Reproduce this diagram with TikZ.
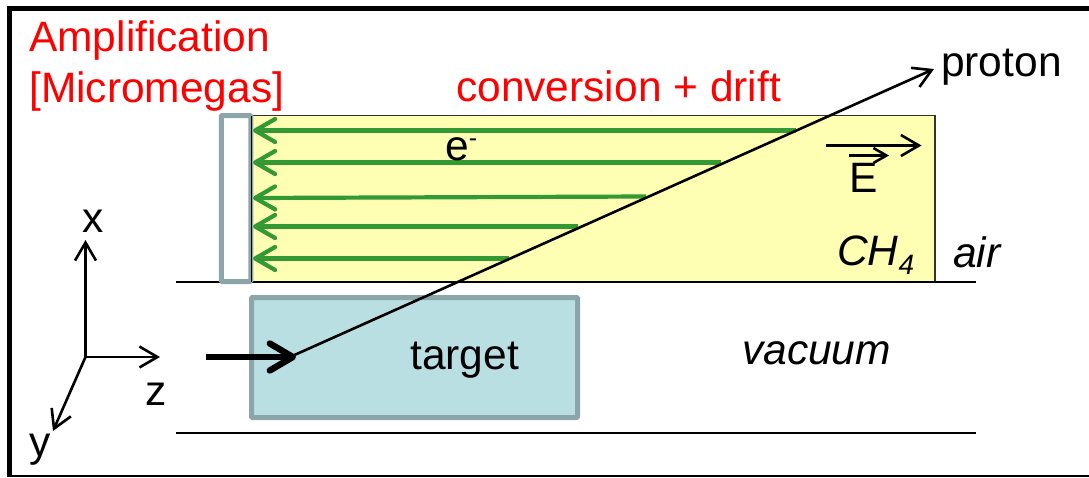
\documentclass[tikz,border=0pt]{standalone}
\usepackage{fontspec}
\setmainfont{Liberation Sans}
\usetikzlibrary{arrows.meta}
\definecolor{gasfill}{HTML}{FFFFB3}
\definecolor{tgtfill}{HTML}{B9DFE3}
\definecolor{framegrey}{HTML}{8CA5A9}
\definecolor{driftgreen}{HTML}{339933}
\definecolor{labelred}{HTML}{FF0000}
\tikzset{
  x=1pt,y=-1pt,
  thinline/.style={draw=black,line width=2.6pt},
  barb/.style={thinline,-{Straight Barb[length=18pt,width=21pt,line width=2.6pt]}},
  drift/.style={draw=driftgreen,line width=4.2pt,-{Straight Barb[length=20pt,width=23pt,line width=4.2pt,round]}},
  lbl/.style={inner sep=0pt,font=\fontsize{42.5}{46}\selectfont},
  redlbl/.style={lbl,text=labelred},
  itlbl/.style={lbl,font=\fontsize{42.5}{46}\selectfont\itshape},
  boxshape/.style={line width=5pt,rounded corners=1pt,inner sep=0pt,outer sep=0pt,anchor=center},
}
\begin{document}
\begin{tikzpicture}
\useasboundingbox (0,0) rectangle (1089,477);
% outer frame
\coordinate (fa) at (9.5,477);
\coordinate (fb) at (9.5,8);
\coordinate (fc) at (1089,8);
\coordinate (fd) at (10,475.5);
\coordinate (fe) at (1089,475.5);
\draw[line width=5pt] (fa) -- (fb) -- (fc);
\draw[line width=2pt] (fd) -- (fe);
% gas volume
\node[draw=black!80,line width=1.2pt,fill=gasfill,minimum width=684pt,minimum height=166.5pt,inner sep=0pt,outer sep=0pt,anchor=center] (gas) at (593,198.75) {};
% horizontal lines
\coordinate (la) at (176,282);
\coordinate (lb) at (976,282);
\coordinate (lc) at (176,433);
\coordinate (ld) at (976,433);
\draw[thinline] (la) -- (lb);
\draw[thinline] (lc) -- (ld);
% micromegas
\node[boxshape,draw=framegrey,fill=white,minimum width=29.5pt,minimum height=166pt] (mm) at (236,198.5) {};
\coordinate (ma) at (251,116);
\coordinate (mb) at (251,282);
\draw[line width=1pt] (ma) -- (mb);
% target
\node[boxshape,draw=framegrey,fill=tgtfill,minimum width=326pt,minimum height=120pt] (tgt) at (414.5,357.5) {};
% drift arrows
\foreach \n/\xa/\ya/\yb in {1/796/130.5/130.5,2/721/162.5/162.5,3/646/196.5/198,4/578/226.5/226.5,5/509/258.5/258.5}{
  \coordinate (ds\n) at (\xa,\ya);
  \coordinate (de\n) at (253,\yb);
  \draw[drift] (ds\n) -- (de\n);
}
% beam
\coordinate (bs) at (206,357);
\coordinate (be) at (296,357);
\coordinate (pe) at (934,69);
\coordinate (ps) at (290,357);
\draw[barb] (ps) -- (pe);
\draw[draw=black,line width=6.4pt,-{Straight Barb[length=23pt,width=27pt,line width=6.4pt,round]}] (bs) -- (be);
% E field
\coordinate (ea) at (826,145.5);
\coordinate (eb) at (921.5,145.5);
\coordinate (ec) at (849,155.5);
\coordinate (ed) at (889,155.5);
\draw[barb] (ea) -- (eb);
\draw[thinline,-{Straight Barb[length=13pt,width=15pt,line width=2.6pt]}] (ec) -- (ed);
% axes
\coordinate (o) at (85.5,357);
\coordinate (xe) at (85.5,240);
\coordinate (ze) at (160,357);
\coordinate (ye) at (53,431);
\draw[barb] (o) -- (xe);
\draw[barb] (o) -- (ze);
\draw[barb] (o) -- (ye);
% labels
\node[redlbl,anchor=base west] (amp) at (29,51) {Amplification};
\node[redlbl,anchor=base west] (mic) at (29,102) {[Micromegas]};
\node[redlbl,anchor=base west] (conv) at (456,101) {conversion + drift};
\node[lbl,anchor=base west] (prot) at (941,76) {proton};
\node[lbl,anchor=base west] (elec) at (445,160) {e\raisebox{14pt}{\fontsize{25}{25}\selectfont -}};
\node[lbl,anchor=base west] (efld) at (849,192) {E};
\node[itlbl,anchor=base west] (ch) at (837,265) {CH\raisebox{-9pt}{\fontsize{28}{28}\selectfont 4}};
\node[itlbl,anchor=base west] (air) at (953,267) {air};
\node[lbl,anchor=base west] (tl) at (410,369) {target};
\node[itlbl,anchor=base west] (vac) at (742,364) {vacuum};
\node[lbl,anchor=base west] (xl) at (82,232) {x};
\node[lbl,anchor=base west] (zl) at (145,405) {z};
\node[lbl,anchor=base west] (yl) at (29,456) {y};
\end{tikzpicture}
\end{document}
